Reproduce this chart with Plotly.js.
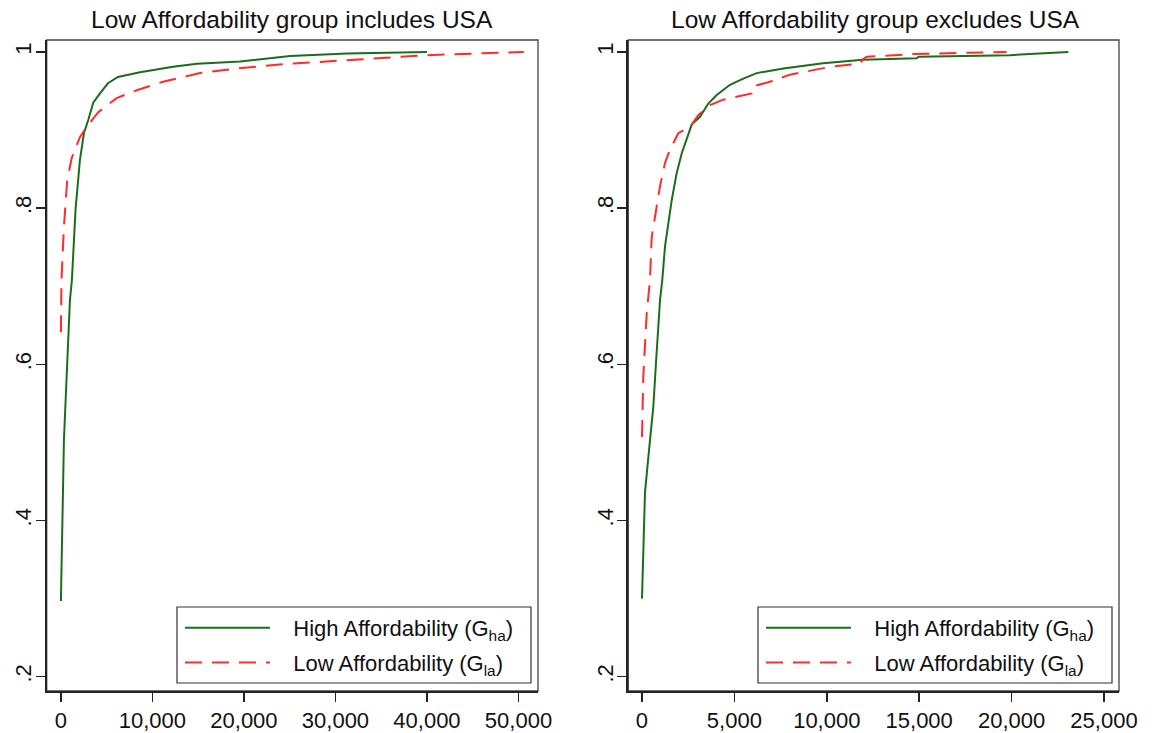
<!DOCTYPE html>
<html>
<head>
<meta charset="utf-8">
<script src="https://cdn.plot.ly/plotly-3.0.1.min.js"></script>
<style>html,body{margin:0;padding:0;background:#fff;}#chart{width:1156px;height:733px;}</style>
</head>
<body>
<div id="chart"></div>
<script>
// ---- Data ----
const panelTitles = ["Low Affordability group includes USA", "Low Affordability group excludes USA"];
const seriesNames = ["High Affordability (G<sub>ha</sub>)", "Low Affordability (G<sub>la</sub>)"];

// Left panel: Low Affordability group includes USA
const leftHighX = [0, 180, 330, 600, 985, 1200, 1346, 1608, 2079, 2516, 2987, 3534, 4267, 5142, 6236, 8643, 12254, 14880, 19584, 25050, 31260, 35000, 40000];
const leftHighY = [0.297, 0.40, 0.503, 0.577, 0.682, 0.708, 0.742, 0.800, 0.862, 0.896, 0.913, 0.935, 0.947, 0.960, 0.968, 0.974, 0.981, 0.985, 0.988, 0.995, 0.998, 0.999, 1.0];
const leftLowX = [0, 60, 328, 689, 1171, 2079, 2812, 4081, 6094, 8282, 11160, 15208, 19256, 25000, 30530, 36000, 40010, 45000, 50580];
const leftLowY = [0.641, 0.708, 0.776, 0.836, 0.864, 0.891, 0.904, 0.923, 0.941, 0.951, 0.962, 0.973, 0.979, 0.985, 0.989, 0.993, 0.996, 0.998, 1.0];

// Right panel: Low Affordability group excludes USA
const rightHighX = [0, 162, 433, 611, 758, 974, 1098, 1245, 1607, 1878, 2148, 2505, 2689, 3139, 3588, 4042, 4762, 5482, 6207, 7646, 9800, 11960, 14860, 14970, 19900, 21500, 23070];
const rightHighY = [0.300, 0.436, 0.503, 0.545, 0.602, 0.682, 0.708, 0.751, 0.810, 0.845, 0.870, 0.896, 0.907, 0.917, 0.934, 0.945, 0.958, 0.966, 0.973, 0.979, 0.9855, 0.990, 0.992, 0.994, 0.996, 0.998, 1.0];
const rightLowX = [0, 70, 254, 433, 525, 974, 1245, 1515, 1964, 2597, 3047, 3680, 4399, 5482, 5936, 6023, 6926, 8009, 9091, 10173, 11797, 11960, 12160, 14660, 17570, 19730];
const rightLowY = [0.507, 0.584, 0.665, 0.708, 0.763, 0.828, 0.858, 0.875, 0.896, 0.904, 0.919, 0.932, 0.939, 0.945, 0.947, 0.956, 0.962, 0.971, 0.976, 0.981, 0.985, 0.9907, 0.994, 0.9974, 0.9991, 1.0];

// Tick labels
const leftXTickVals = [0, 10000, 20000, 30000, 40000, 50000];
const leftXTickText = ["0", "10,000", "20,000", "30,000", "40,000", "50,000"];
const rightXTickVals = [0, 5000, 10000, 15000, 20000, 25000];
const rightXTickText = ["0", "5,000", "10,000", "15,000", "20,000", "25,000"];
const yTickVals = [0.2, 0.4, 0.6, 0.8, 1];
const yTickText = [".2", ".4", ".6", ".8", "1"];

// ---- Styles ----
const FONT = "Liberation Sans, Arial, Helvetica, sans-serif";
const GREEN = "#1b6d1b";
const RED = "#ff2a2a";
const W = 1156, H = 733;
const px = v => v / W;
const py = v => (H - v) / H;
const PAD = "\u00a0\u00a0\u00a0"; // visual gap between legend key and label

const lineHigh = {color: GREEN, width: 2, dash: "solid"};
const lineLow = {color: RED, width: 2, dash: "17px,10px"};

const traces = [
  {x: leftHighX, y: leftHighY, xaxis: "x", yaxis: "y", mode: "lines", line: lineHigh, name: PAD + seriesNames[0], legend: "legend", legendgroup: "a", showlegend: true, hoverinfo: "skip"},
  {x: leftLowX, y: leftLowY, xaxis: "x", yaxis: "y", mode: "lines", line: lineLow, name: PAD + seriesNames[1], legend: "legend", legendgroup: "b", showlegend: true, hoverinfo: "skip"},
  {x: rightHighX, y: rightHighY, xaxis: "x2", yaxis: "y2", mode: "lines", line: lineHigh, name: PAD + seriesNames[0], legend: "legend2", legendgroup: "c", showlegend: true, hoverinfo: "skip"},
  {x: rightLowX, y: rightLowY, xaxis: "x2", yaxis: "y2", mode: "lines", line: lineLow, name: PAD + seriesNames[1], legend: "legend2", legendgroup: "d", showlegend: true, hoverinfo: "skip"}
];

const tickFont = {family: FONT, size: 22, color: "#111"};
function xax(domain, range, vals, text, anchor) {
  return {domain: domain, range: range, anchor: anchor, tickmode: "array", tickvals: vals, ticktext: text,
    ticks: "outside", ticklen: 9, tickwidth: 1.5, tickcolor: "#222", showline: true, linecolor: "#222", linewidth: 2,
    showgrid: false, zeroline: false, tickfont: tickFont, fixedrange: true};
}
function yax(domain, range, anchor) {
  return {domain: domain, range: range, anchor: anchor, tickmode: "array", tickvals: yTickVals, ticktext: yTickText,
    tickangle: -90, ticks: "outside", ticklen: 9, tickwidth: 1.5, tickcolor: "#222", showline: true, linecolor: "#222", linewidth: 2,
    ticklabelstandoff: -4,
    showgrid: false, zeroline: false, tickfont: tickFont, fixedrange: true};
}

const yDomain = [py(691), py(40)];
const legendCommon = {bgcolor: "rgba(0,0,0,0)", borderwidth: 0, font: {family: FONT, size: 22, color: "#111"},
  itemwidth: 85, traceorder: "grouped", tracegroupgap: 3, yanchor: "top", xanchor: "left", itemclick: false, itemdoubleclick: false};

const layout = {
  width: W, height: H,
  margin: {l: 0, r: 0, t: 0, b: 0},
  paper_bgcolor: "#fff", plot_bgcolor: "#fff",
  showlegend: true,
  xaxis: xax([px(46.7), px(538)], [-1553, 52134], leftXTickVals, leftXTickText, "y"),
  yaxis: yax(yDomain, [0.1817, 1.0154], "x"),
  xaxis2: xax([px(628.3), px(1119)], [-741, 25812], rightXTickVals, rightXTickText, "y2"),
  yaxis2: yax(yDomain, [0.1817, 1.0154], "x2"),
  legend: Object.assign({}, legendCommon, {x: px(180), y: py(607)}),
  legend2: Object.assign({}, legendCommon, {x: px(761), y: py(607)}),
  annotations: [
    {text: panelTitles[0], xref: "paper", yref: "paper", x: px(292), y: py(20), xanchor: "center", yanchor: "middle", showarrow: false, font: {family: FONT, size: 24.5, color: "#111"}},
    {text: panelTitles[1], xref: "paper", yref: "paper", x: px(875), y: py(20), xanchor: "center", yanchor: "middle", showarrow: false, font: {family: FONT, size: 24.5, color: "#111"}}
  ],
  shapes: [
    {type: "rect", xref: "x domain", yref: "y domain", x0: 0, x1: 1, y0: 0, y1: 1, line: {color: "#444", width: 1.3}, layer: "below"},
    {type: "rect", xref: "x2 domain", yref: "y2 domain", x0: 0, x1: 1, y0: 0, y1: 1, line: {color: "#444", width: 1.3}, layer: "below"},
    {type: "rect", xref: "paper", yref: "paper", x0: px(177), x1: px(531), y0: py(683), y1: py(607), line: {color: "#333", width: 1.2}, fillcolor: "#fff", layer: "above"},
    {type: "rect", xref: "paper", yref: "paper", x0: px(758), x1: px(1112), y0: py(683), y1: py(607), line: {color: "#333", width: 1.2}, fillcolor: "#fff", layer: "above"}
  ]
};

Plotly.newPlot("chart", traces, layout, {displayModeBar: false, staticPlot: true});
</script>
</body>
</html>
